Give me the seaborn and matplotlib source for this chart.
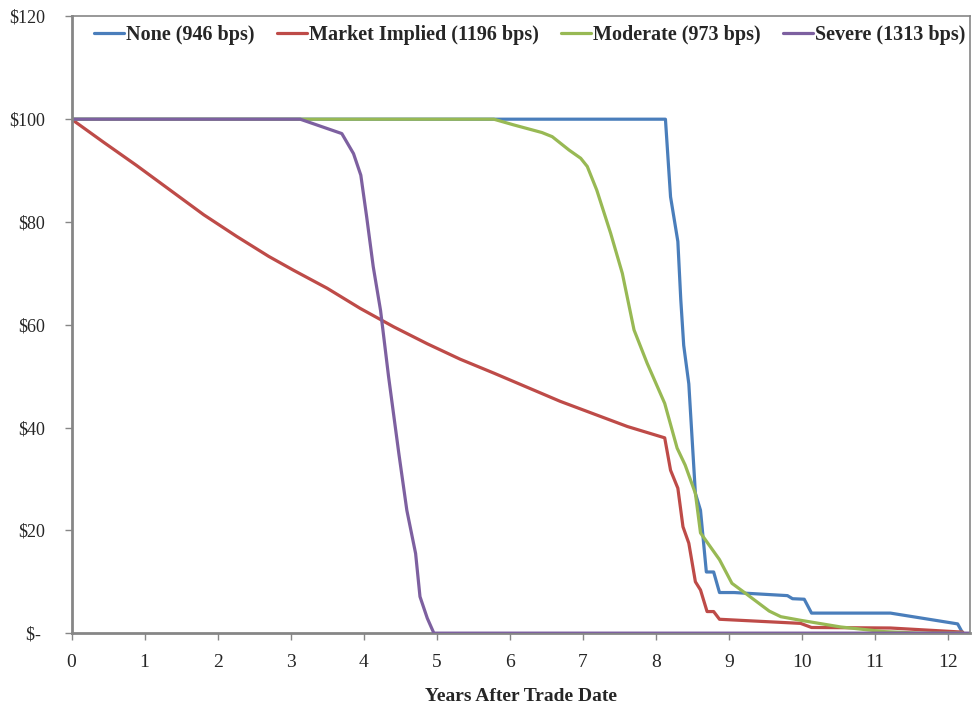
import pandas as pd
import seaborn as sns
import matplotlib.pyplot as plt

# values (years after trade date, price)
none_x = [0, 8.13, 8.20, 8.30, 8.34, 8.38, 8.45, 8.54, 8.61, 8.69, 8.79, 8.87, 9.07,
          9.80, 9.87, 10.03, 10.13, 11.21, 12.13, 12.20]
none_y = [100, 100, 84.9, 76.2, 64.9, 56.0, 48.5, 27.2, 23.9, 11.9, 11.9, 7.9, 7.9,
          7.3, 6.7, 6.6, 3.9, 3.9, 1.8, 0]

market_x = [0, 0.44, 0.89, 1.35, 1.81, 2.26, 2.70, 3.04, 3.50, 3.95, 4.41, 4.87, 5.32,
            5.78, 6.69, 7.61, 8.12, 8.20, 8.30, 8.37, 8.45, 8.54, 8.61, 8.70, 8.79,
            8.87, 9.98, 10.13, 11.21, 12.20]
market_y = [100, 95.5, 91.0, 86.2, 81.4, 77.2, 73.3, 70.6, 67.1, 63.2, 59.6, 56.3, 53.3,
            50.6, 45.1, 40.2, 38.0, 31.7, 28.2, 20.7, 17.5, 10.0, 8.4, 4.2, 4.2,
            2.7, 1.9, 1.1, 1.0, 0.2]

moderate_x = [0, 5.78, 6.05, 6.44, 6.58, 6.81, 6.97, 7.06, 7.19, 7.38, 7.54, 7.70, 7.88,
              8.12, 8.29, 8.40, 8.54, 8.61, 8.79, 8.87, 9.04, 9.25, 9.55, 9.71, 9.98,
              10.53, 11.12, 11.6, 12.2]
moderate_y = [100, 100, 98.9, 97.4, 96.6, 94.0, 92.4, 90.8, 86.2, 77.8, 70.0, 59.0, 52.5,
              44.7, 36.0, 32.7, 27.2, 19.5, 15.9, 14.3, 9.7, 7.5, 4.3, 3.2, 2.5,
              1.2, 0.3, 0, 0]

severe_x = [0, 3.13, 3.70, 3.86, 3.96, 4.04, 4.13, 4.23, 4.34, 4.48, 4.59, 4.71, 4.77,
            4.87, 4.96, 12.3]
severe_y = [100, 100, 97.2, 93.3, 89.1, 81.0, 71.3, 62.8, 49.9, 35.0, 23.9, 15.5, 7.1,
            2.9, 0, 0]

scenarios = ['None (946 bps)', 'Market Implied (1196 bps)', 'Moderate (973 bps)', 'Severe (1313 bps)']
colors = ['#4A7EBB', '#BE4B48', '#98B954', '#7D60A0']
y_ticks = [0, 20, 40, 60, 80, 100, 120]
y_labels = ['$- ', '$20', '$40', '$60', '$80', '$100', '$120']
x_ticks = list(range(0, 13))

frames = []
for name, xs, ys in zip(scenarios, [none_x, market_x, moderate_x, severe_x],
                        [none_y, market_y, moderate_y, severe_y]):
    frames.append(pd.DataFrame({'years': xs, 'price': ys, 'scenario': name}))
df = pd.concat(frames, ignore_index=True)

sns.set_style('white')
plt.rcParams['font.family'] = ['Liberation Serif', 'DejaVu Serif']

fig = plt.figure(figsize=(9.72, 7.13), dpi=100)
ax = fig.add_axes([0.0736, 0.112, 0.9244, 0.865])

sns.lineplot(data=df, x='years', y='price', hue='scenario', palette=colors,
             estimator=None, sort=False, linewidth=2.3, ax=ax)

ax.set_xlim(0, 12.3)
ax.set_ylim(0, 120)
ax.set_xticks(x_ticks)
ax.set_xticklabels([str(t) for t in x_ticks], fontsize=14)
ax.set_yticks(y_ticks)
ax.set_yticklabels(y_labels, fontsize=13)
ax.set_xlabel('Years After Trade Date', fontsize=14, fontweight='bold', labelpad=12)
ax.set_ylabel('')
ax.tick_params(axis='both', direction='out', length=5, width=1, color='#868686',
               bottom=True, left=True)
ax.tick_params(axis='x', pad=10)
ax.tick_params(axis='y', pad=14)

for side in ['left', 'bottom']:
    ax.spines[side].set_color('#868686')
    ax.spines[side].set_linewidth(2)
for side in ['top', 'right']:
    ax.spines[side].set_color('#868686')
    ax.spines[side].set_linewidth(1.2)
ax.spines['bottom'].set_zorder(1)

leg = ax.legend(loc='upper center', bbox_to_anchor=(0.51, 1.015), ncol=4, frameon=False,
                handlelength=1.5, handletextpad=0.1, columnspacing=1.1,
                prop={'weight': 'bold', 'size': 14.5})
for line in leg.get_lines():
    line.set_linewidth(2.3)

plt.savefig('out.png', dpi=100)
